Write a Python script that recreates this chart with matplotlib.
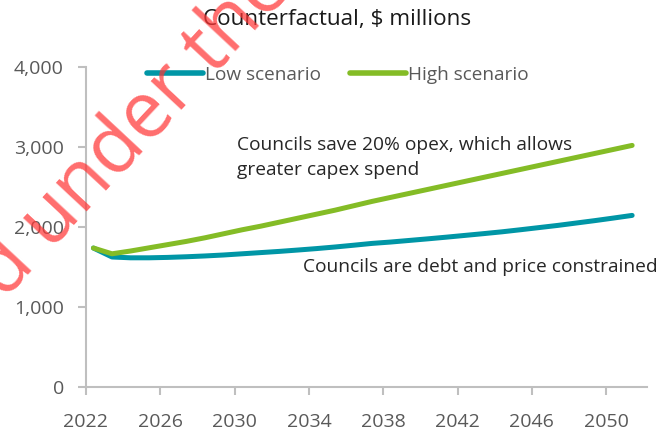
import matplotlib
matplotlib.use("Agg")
import matplotlib.pyplot as plt
import numpy as np

plt.rcParams['font.family'] = ['Open Sans', 'DejaVu Sans']

years = list(range(2022, 2052))
low_scenario = [1737, 1625, 1615, 1615, 1620, 1628, 1638, 1650, 1665, 1680,
                1695, 1712, 1730, 1750, 1772, 1795, 1812, 1832, 1852, 1873,
                1895, 1917, 1940, 1966, 1993, 2020, 2050, 2080, 2112, 2145]
high_scenario = [1737, 1665, 1700, 1740, 1780, 1820, 1865, 1915, 1965, 2010,
                 2060, 2110, 2160, 2210, 2265, 2320, 2370, 2420, 2470, 2520,
                 2570, 2620, 2670, 2720, 2770, 2820, 2870, 2920, 2970, 3020]
series_labels = ["Low scenario", "High scenario"]
xtick_labels = [2022, 2026, 2030, 2034, 2038, 2042, 2046, 2050]
yticks = [0, 1000, 2000, 3000, 4000]

TEAL = "#0096A6"
GREEN = "#84BC26"
GRAY = "#595959"
AXIS = "#BFBFBF"

fig = plt.figure(figsize=(6.58, 4.32), dpi=100)
ax = fig.add_axes([86/658, 1-387/432, (647-86)/658, (387-67)/432])

x = np.array(years) + 0.4
ax.plot(x, low_scenario, color=TEAL, lw=3.6, solid_capstyle='round', label=series_labels[0], zorder=3)
ax.plot(x, high_scenario, color=GREEN, lw=3.6, solid_capstyle='round', label=series_labels[1], zorder=3)

ax.set_xlim(2022, 2052.2)
ax.set_ylim(0, 4000)
ax.set_xticks(xtick_labels)
ax.set_xticklabels([str(v) for v in xtick_labels])
ax.set_yticks(yticks)
ax.set_yticklabels([f"{v:,}" for v in yticks])

for s in ['top', 'right']:
    ax.spines[s].set_visible(False)
for s in ['left', 'bottom']:
    ax.spines[s].set_color(AXIS)
    ax.spines[s].set_linewidth(1.5)
ax.tick_params(axis='both', colors=AXIS, length=6, width=1.5, labelcolor=GRAY, labelsize=14)
ax.tick_params(axis='y', pad=10)
ax.tick_params(axis='x', pad=12.5)

fig.text(337/658, 1-20/432, "Counterfactual, $ millions", ha='center', va='center',
         fontsize=16.2, color="#1a1a1a")

leg = fig.legend(loc='center left', bbox_to_anchor=(147/658, 1-75/432), ncol=2,
                 frameon=False, fontsize=13.7, handlelength=2.95, handletextpad=0.12,
                 columnspacing=1.5, borderpad=0, borderaxespad=0)
for t in leg.get_texts():
    t.set_color(GRAY)
for h in leg.get_lines():
    h.set_linewidth(4)

fig.text(237/658, 1-157.5/432, "Councils save 20% opex, which allows\ngreater capex spend",
         ha='left', va='center', fontsize=13.8, color="#262626", linespacing=1.5)
fig.text(303/658, 1-267/432, "Councils are debt and price constrained",
         ha='left', va='center', fontsize=13.8, color="#262626")

fig.text(119/658, 1-147/432, "ed under the", rotation=47, rotation_mode='anchor',
         ha='center', va='center', fontsize=56, color="#FF3535", alpha=0.72, zorder=10)

fig.savefig("out.png", dpi=100)
